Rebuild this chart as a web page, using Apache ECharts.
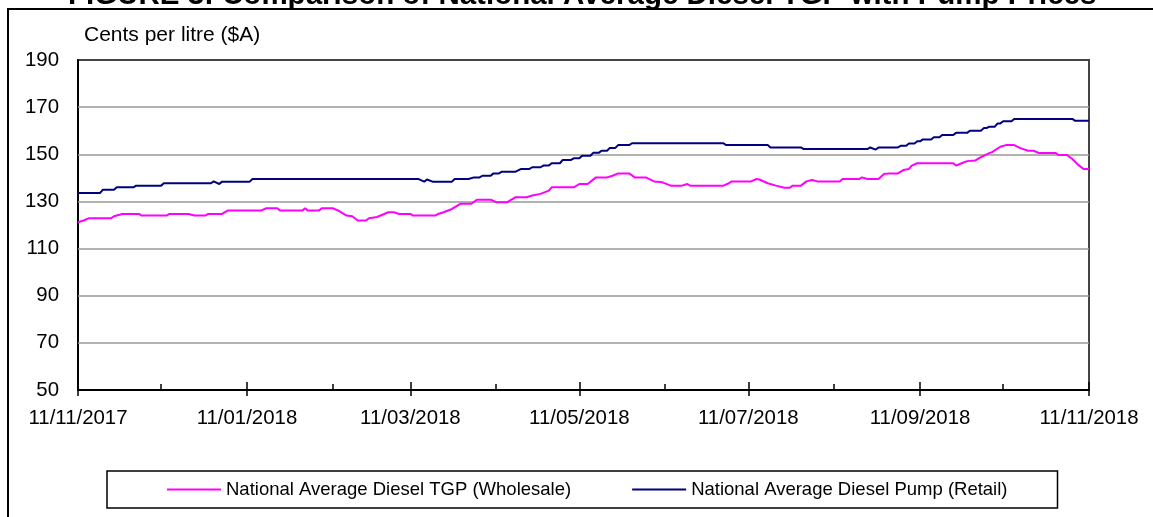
<!DOCTYPE html>
<html><head><meta charset="utf-8">
<script src="https://cdn.jsdelivr.net/npm/echarts@6/dist/echarts.min.js"></script>
<style>html,body{margin:0;padding:0;background:#fff}#c{width:1153px;height:517px}</style>
</head><body><div id="c"></div>
<script>
const titleText = 'FIGURE 3: Comparison of National Average Diesel TGP with Pump Prices';
const yAxisName = 'Cents per litre ($A)';
const seriesNames = ['National Average Diesel TGP (Wholesale)', 'National Average Diesel Pump (Retail)'];
// x = days since 11/11/2017
const majorTickDays = [0, 61, 120, 181, 242, 304, 365];
const majorTickLabels = ['11/11/2017', '11/01/2018', '11/03/2018', '11/05/2018', '11/07/2018', '11/09/2018', '11/11/2018'];
const minorTickDays = [30, 92, 151, 212, 273, 334];
const yTickValues = [50, 70, 90, 110, 130, 150, 170, 190];

// [day, cents per litre]
const tgpData = [[0,121.2],[2,121.9],[4,122.9],[12,122.9],[13,123.7],[16,124.7],[22,124.7],[23,124.0],[32,124.0],[33,124.7],[40,124.7],[42,124.0],[46,124.0],[47,124.7],[52,124.7],[54,126.1],[66,126.1],[68,127.1],[72,127.1],[73,126.1],[81,126.1],[82,127.1],[83,126.1],[87,126.1],[88,127.1],[92,127.1],[94,126.1],[97,124.0],[99,123.7],[101,121.9],[104,121.9],[105,122.9],[108,123.4],[112,125.4],[114,125.4],[116,124.7],[120,124.7],[121,124.0],[129,124.0],[130,124.7],[132,125.4],[135,126.8],[138,129.0],[142,129.0],[144,130.7],[149,130.7],[151,129.7],[155,129.7],[158,131.8],[162,131.8],[164,132.5],[167,133.2],[170,134.6],[171,136.0],[179,136.0],[181,137.4],[184,137.4],[187,140.2],[191,140.2],[193,140.9],[195,141.9],[199,141.9],[201,140.2],[205,140.2],[208,138.5],[211,138.1],[214,136.7],[218,136.7],[220,137.4],[221,136.7],[233,136.7],[235,137.7],[236,138.5],[243,138.5],[245,139.5],[246,139.3],[249,137.7],[252,136.7],[255,135.8],[257,135.8],[258,136.7],[261,136.7],[263,138.5],[265,139.1],[267,138.5],[275,138.5],[276,139.5],[282,139.5],[283,140.2],[285,139.5],[289,139.5],[291,141.6],[293,141.9],[296,141.9],[298,143.3],[300,143.8],[301,145.2],[303,146.2],[316,146.2],[317,145.2],[319,146.2],[321,147.1],[324,147.4],[326,148.8],[329,150.5],[330,150.9],[333,153.2],[335,153.9],[338,153.9],[340,152.7],[343,151.5],[345,151.5],[347,150.5],[353,150.5],[354,149.7],[357,149.7],[359,148.0],[361,145.6],[363,143.8],[365,143.8]];

const retailData = [[0,133.6],[8,133.6],[9,135.0],[13,135.0],[14,136.0],[20,136.0],[21,136.7],[30,136.7],[31,137.7],[48,137.7],[49,138.5],[51,137.4],[52,138.4],[62,138.4],[63,139.5],[123,139.5],[125,138.4],[126,139.3],[128,138.4],[135,138.4],[136,139.5],[141,139.5],[143,140.2],[145,140.2],[146,140.9],[149,140.9],[150,141.9],[152,141.9],[153,142.6],[158,142.6],[160,143.8],[163,143.8],[164,144.5],[167,144.5],[168,145.2],[170,145.2],[171,146.2],[174,146.2],[175,147.6],[178,147.6],[179,148.3],[181,148.3],[182,149.4],[185,149.4],[186,150.6],[188,150.6],[189,151.5],[191,151.5],[192,152.7],[194,152.7],[195,153.9],[199,153.9],[200,154.7],[233,154.7],[234,153.9],[249,153.9],[250,152.9],[261,152.9],[262,152.2],[285,152.2],[286,152.9],[288,152.0],[289,152.9],[296,152.9],[297,153.6],[299,153.6],[300,154.6],[302,154.6],[303,155.5],[304,155.5],[305,156.3],[308,156.3],[309,157.2],[311,157.2],[312,158.2],[316,158.2],[317,159.1],[321,159.1],[322,160.0],[326,160.0],[327,161.1],[328,161.1],[329,161.7],[331,161.7],[332,163.1],[333,163.1],[334,164.0],[337,164.0],[338,165.0],[359,165.0],[360,164.2],[365,164.2]];

const FONT = '"Liberation Sans", Arial, sans-serif';
const chart = echarts.init(document.getElementById('c'), null, {renderer: 'canvas'});
const hiddenX = (inside, len, vals) => ({
  type: 'value', min: 0, max: 365, position: 'bottom', offset: 0,
  axisLine: {show: false}, axisLabel: {show: false}, splitLine: {show: false},
  axisTick: {show: true, inside: inside, length: len, customValues: vals, lineStyle: {color: '#000', width: 1.5}}
});
chart.setOption({
  animation: false,
  backgroundColor: '#fff',
  title: {
    text: titleText, left: 68, top: -19, padding: 0,
    textStyle: {fontFamily: FONT, fontSize: 29.5, fontWeight: 'bold', color: '#000'}
  },
  graphic: [{
    type: 'rect', silent: true, z: -10,
    shape: {x: 8, y: 9, width: 1200, height: 600},
    style: {fill: 'none', stroke: '#000', lineWidth: 2}
  }],
  legend: {
    data: seriesNames, left: 107, top: 471, orient: 'horizontal',
    padding: [9, 50, 9, 60], itemGap: 61, itemWidth: 54, itemHeight: 2, icon: 'rect',
    borderColor: '#000', borderWidth: 1.5,
    textStyle: {fontFamily: FONT, fontSize: 18.5, color: '#000'}
  },
  grid: {left: 78, top: 60, width: 1011, height: 330, show: true, borderColor: '#444', borderWidth: 2, containLabel: false},
  xAxis: [{
    type: 'value', min: 0, max: 365, position: 'bottom',
    axisLine: {show: true, lineStyle: {color: '#000', width: 2}},
    axisTick: {show: true, inside: false, length: 6, customValues: majorTickDays, lineStyle: {color: '#000', width: 1.5}},
    axisLabel: {
      show: true, customValues: majorTickDays, margin: 18, showMinLabel: true, showMaxLabel: true,
      fontFamily: FONT, fontSize: 20.4, color: '#000',
      formatter: v => { const i = majorTickDays.indexOf(v); return i >= 0 ? majorTickLabels[i] : ''; }
    },
    splitLine: {show: false}
  }, hiddenX(true, 8, majorTickDays), hiddenX(true, 6, minorTickDays)],
  yAxis: {
    type: 'value', min: 50, max: 190,
    name: yAxisName, nameLocation: 'end', nameGap: 25,
    nameTextStyle: {fontFamily: FONT, fontSize: 21, color: '#000', align: 'left', verticalAlign: 'middle', padding: [0, 0, 0, 6]},
    axisLine: {show: true, lineStyle: {color: '#000', width: 2}},
    axisTick: {show: false},
    axisLabel: {show: true, customValues: yTickValues, margin: 19, fontFamily: FONT, fontSize: 20.4, color: '#000'},
    splitLine: {show: false}
  },
  series: [{
    name: seriesNames[0], type: 'line', xAxisIndex: 0, data: tgpData,
    symbol: 'none', showSymbol: false, color: '#FF00FF',
    lineStyle: {color: '#FF00FF', width: 2}, z: 3,
    markLine: {
      silent: true, symbol: 'none', z: 1, animation: false,
      label: {show: false},
      lineStyle: {color: '#999', width: 1.5, type: 'solid'},
      data: yTickValues.slice(1, -1).map(v => ({yAxis: v}))
    }
  }, {
    name: seriesNames[1], type: 'line', xAxisIndex: 0, data: retailData,
    symbol: 'none', showSymbol: false, color: '#000080',
    lineStyle: {color: '#000080', width: 2}, z: 3
  }]
});
</script></body></html>
